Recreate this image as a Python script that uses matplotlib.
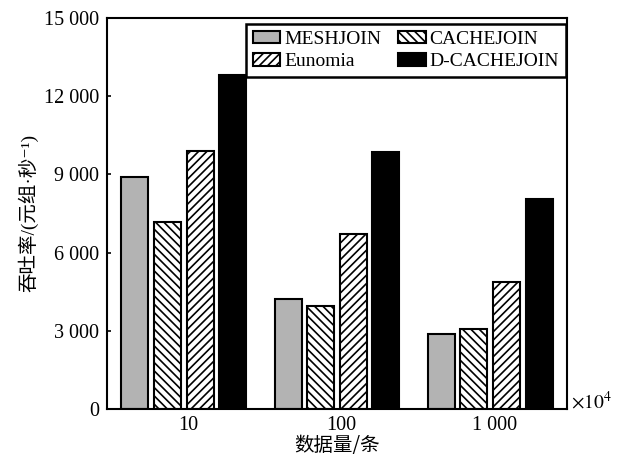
import numpy as np
import matplotlib
matplotlib.use('Agg')
import matplotlib.pyplot as plt

plt.rcParams['font.family'] = ['Liberation Serif', 'Noto Sans CJK SC', 'DejaVu Sans']
plt.rcParams['mathtext.fontset'] = 'stix'
plt.rcParams['font.size'] = 14
plt.rcParams['hatch.linewidth'] = 1.2
plt.rcParams['axes.linewidth'] = 1.5

# 数据（单位：元组/秒）
groups = ['10', '100', '1 000']
methods = ['MESHJOIN', 'CACHEJOIN', 'Eunomia', 'D-CACHEJOIN']
meshjoin = [8900, 4230, 2880]
cachejoin = [7160, 3950, 3070]
eunomia = [9910, 6710, 4870]
dcachejoin = [12810, 9870, 8070]
yticks = [0, 3000, 6000, 9000, 12000, 15000]
ytick_labels = ['0', '3 000', '6 000', '9 000', '12 000', '15 000']

series = [meshjoin, cachejoin, eunomia, dcachejoin]
faces = ['#b3b3b3', 'white', 'white', 'black']
hatches = [None, '\\\\\\\\', '////', None]

fig, ax = plt.subplots(figsize=(6.27, 4.58), dpi=100)
fig.subplots_adjust(left=0.171, right=0.904, top=0.961, bottom=0.107)

x = np.arange(len(groups))
width = 0.176
step = 0.213
bars = []
for i, (vals, fc, h, lab) in enumerate(zip(series, faces, hatches, methods)):
    b = ax.bar(x + (i - 1.5) * step, vals, width, color=fc, edgecolor='black',
               linewidth=1.5, hatch=h, label=lab)
    bars.append(b)

ax.set_xlim(-0.5, 2.5)
ax.set_ylim(0, 15000)
ax.set_yticks(yticks)
ax.set_yticklabels(ytick_labels, fontsize=14.5)
ax.set_xticks(x + 0.03)
ax.set_xticklabels(groups, fontsize=14.5)
ax.tick_params(axis='x', length=0, pad=5)
ax.tick_params(axis='y', direction='in', length=3, width=1.2, pad=6)

ax.set_ylabel('吞吐率/(元组·秒⁻¹)', fontsize=14,
              family=['Liberation Serif', 'DejaVu Serif', 'Noto Sans CJK SC'],
              labelpad=4)
ax.set_xlabel('数据量/条', fontsize=14, family=['Noto Sans CJK SC', 'DejaVu Sans'],
              labelpad=0)
ax.text(1.01, 0.02, r'$\times10^4$', transform=ax.transAxes, fontsize=14,
        ha='left', va='center')

# 图例按行排列：MESHJOIN, CACHEJOIN / Eunomia, D-CACHEJOIN
order = [0, 2, 1, 3]
leg = ax.legend([bars[k] for k in order], [methods[k] for k in order],
                loc='upper right', ncol=2, fontsize=14, frameon=True,
                fancybox=False, edgecolor='black', framealpha=1,
                borderpad=0.35, borderaxespad=0, handlelength=1.4,
                handleheight=0.6, handletextpad=0.2, columnspacing=0.9,
                labelspacing=0.3, bbox_to_anchor=(0.998, 0.985))
leg.get_frame().set_linewidth(1.8)

plt.savefig('out.png', dpi=100, facecolor='white')
